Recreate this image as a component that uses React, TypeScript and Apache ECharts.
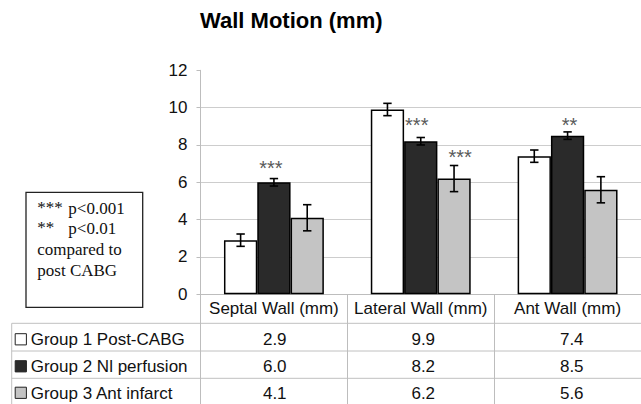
import React, { useEffect, useRef } from 'react';
import * as echarts from 'echarts';

// ---- data ----
const chartTitle = 'Wall Motion (mm)';
const categories = ['Septal Wall (mm)', 'Lateral Wall (mm)', 'Ant Wall (mm)'];
const groupNames = ['Group 1 Post-CABG', 'Group 2 Nl perfusion', 'Group 3 Ant infarct'];
const group1 = [2.9, 9.9, 7.4];
const group2 = [6.0, 8.2, 8.5];
const group3 = [4.1, 6.2, 5.6];
const err1 = [0.33, 0.33, 0.33];
const err2 = [0.2, 0.2, 0.2];
const err3 = [0.7, 0.7, 0.7];
const yTickValues = [0, 2, 4, 6, 8, 10, 12];
const sigCategory = [0, 1, 1, 2];
const sigGroup = [1, 1, 2, 1];
const sigMarks = ['***', '***', '***', '**'];
const sigLevel = [6.98, 9.28, 7.58, 9.28];
const noteStars = ['***', '**', '', ''];
const noteTexts = ['p<0.001', 'p<0.01', 'compared to', 'post CABG'];

// ---- layout / style ----
const W = 641;
const H = 404;
const GRID_LEFT = 200.5;
const GRID_TOP = 70.3;
const GRID_H = 224;
const GRID_W = 445.5;
const BAR_W = 33.3;
const SANS = '"Liberation Sans", Arial, sans-serif';
const SERIF = '"Liberation Serif", "Times New Roman", serif';
const GROUP_COLORS = ['#ffffff', '#2a2a2a', '#c4c4c4'];
const SIG_DX = [-3, -4, 6, 2];
const ROW_Y = [339.5, 366.5, 393];
const TABLE_LINES_Y = [323.3, 351, 378.3];
const TABLE_LEFT = 11.7;

export default function App() {
  const ref = useRef<HTMLDivElement>(null);
  useEffect(() => {
    if (!ref.current) return;
    const chart = echarts.init(ref.current, undefined, { renderer: 'svg' });
    const groups = [group1, group2, group3];
    const errs = [err1, err2, err3];
    const band = GRID_W / categories.length;
    const yMax = yTickValues[yTickValues.length - 1];

    const errData: number[][] = [];
    groups.forEach((g, gi) => {
      g.forEach((v, ci) => {
        errData.push([ci, gi, v - errs[gi][ci], v + errs[gi][ci]]);
      });
    });
    const sigData = sigMarks.map((_, i) => [sigCategory[i], sigGroup[i], sigLevel[i], i]);

    const graphics: any[] = [];
    graphics.push({
      type: 'text',
      x: 291.3,
      y: 20,
      style: {
        text: chartTitle,
        font: `bold 22px ${SANS}`,
        fill: '#000',
        align: 'center',
        verticalAlign: 'middle',
      },
    });
    // note box
    graphics.push({
      type: 'rect',
      shape: { x: 26, y: 192.3, width: 116.7, height: 115 },
      style: { fill: '#fff', stroke: '#222', lineWidth: 1.3 },
    });
    const noteY = [208.3, 228.8, 249.3, 270];
    noteTexts.forEach((t, i) => {
      if (noteStars[i]) {
        graphics.push({
          type: 'text',
          x: 37.3,
          y: noteY[i] - 1,
          style: { text: noteStars[i], font: `17px ${SERIF}`, fill: '#111', align: 'left', verticalAlign: 'middle' },
        });
      }
      graphics.push({
        type: 'text',
        x: noteStars[i] ? 68.3 : 37.3,
        y: noteY[i],
        style: { text: t, font: `17px ${SERIF}`, fill: '#111', align: 'left', verticalAlign: 'middle' },
      });
    });
    // table lines
    TABLE_LINES_Y.forEach((y) => {
      graphics.push({
        type: 'line',
        shape: { x1: TABLE_LEFT, y1: y, x2: W, y2: y },
        style: { stroke: '#c0c0c0', lineWidth: 1 },
      });
    });
    graphics.push({
      type: 'line',
      shape: { x1: TABLE_LEFT, y1: TABLE_LINES_Y[0], x2: TABLE_LEFT, y2: H },
      style: { stroke: '#c0c0c0', lineWidth: 1 },
    });
    // table rows
    groupNames.forEach((name, gi) => {
      const y = ROW_Y[gi];
      graphics.push({
        type: 'rect',
        shape: { x: 15.2, y: y - 5.8, width: 11.2, height: 11.2 },
        style: { fill: GROUP_COLORS[gi], stroke: '#222', lineWidth: 1 },
      });
      graphics.push({
        type: 'text',
        x: 30.7,
        y,
        style: { text: name, font: `17px ${SANS}`, fill: '#111', align: 'left', verticalAlign: 'middle' },
      });
      groups[gi].forEach((v, ci) => {
        graphics.push({
          type: 'text',
          x: GRID_LEFT + (ci + 0.5) * band,
          y,
          style: { text: v.toFixed(1), font: `17px ${SANS}`, fill: '#111', align: 'center', verticalAlign: 'middle' },
        });
      });
    });

    const barSeries = groups.map((g, gi) => ({
      type: 'bar',
      name: groupNames[gi],
      data: g,
      barWidth: BAR_W,
      barGap: '0%',
      itemStyle: { color: GROUP_COLORS[gi], borderColor: '#000', borderWidth: 1.5 },
      z: 2,
    }));

    chart.setOption({
      animation: false,
      backgroundColor: '#fff',
      grid: { left: GRID_LEFT, top: GRID_TOP, width: GRID_W, height: GRID_H, containLabel: false },
      xAxis: {
        type: 'category',
        data: categories,
        boundaryGap: true,
        axisLine: { show: true, lineStyle: { color: '#bdbdbd', width: 1 } },
        axisTick: { show: true, interval: 0, length: 110, lineStyle: { color: '#bdbdbd', width: 1 } },
        axisLabel: { interval: 0, margin: 6, fontSize: 17, fontFamily: SANS, color: '#111' },
        splitLine: { show: false },
      },
      yAxis: {
        type: 'value',
        min: 0,
        max: yMax,
        interval: 2,
        axisLine: { show: true, lineStyle: { color: '#bdbdbd', width: 1 } },
        axisTick: { show: true, length: 4, lineStyle: { color: '#bdbdbd' } },
        axisLabel: { margin: 13, fontSize: 17, fontFamily: SANS, color: '#111' },
        splitLine: { show: true, showMaxLine: false, lineStyle: { color: '#cdcdcd', width: 1 } },
      },
      series: [
        ...barSeries,
        {
          type: 'custom',
          name: 'errors',
          data: errData,
          encode: { x: 0, y: [2, 3] },
          z: 5,
          renderItem: (params: any, api: any) => {
            const c = api.value(0);
            const g = api.value(1);
            const lo = api.coord([c, api.value(2)]);
            const hi = api.coord([c, api.value(3)]);
            const x = lo[0] + (g - 1) * BAR_W;
            const hw = 4.2;
            const st = { stroke: '#000', lineWidth: 1.6 };
            return {
              type: 'group',
              children: [
                { type: 'line', shape: { x1: x, y1: hi[1], x2: x, y2: lo[1] }, style: st },
                { type: 'line', shape: { x1: x - hw, y1: hi[1], x2: x + hw, y2: hi[1] }, style: st },
                { type: 'line', shape: { x1: x - hw, y1: lo[1], x2: x + hw, y2: lo[1] }, style: st },
              ],
            };
          },
        },
        {
          type: 'custom',
          name: 'significance',
          data: sigData,
          encode: { x: 0, y: 2 },
          z: 6,
          renderItem: (params: any, api: any) => {
            const c = api.value(0);
            const g = api.value(1);
            const idx = api.value(3);
            const p = api.coord([c, api.value(2)]);
            return {
              type: 'text',
              x: p[0] + (g - 1) * BAR_W + SIG_DX[idx],
              y: p[1] + 4,
              style: {
                text: sigMarks[idx],
                fontSize: 20,
                fontFamily: SANS,
                fill: '#5a5a5a',
                align: 'center',
                verticalAlign: 'middle',
              },
            };
          },
        },
      ],
      graphic: graphics,
    });
    return () => chart.dispose();
  }, []);
  return (
    <div
      ref={ref}
      style={{ position: 'fixed', left: 0, top: 0, width: W, height: H, background: '#fff' }}
    />
  );
}
